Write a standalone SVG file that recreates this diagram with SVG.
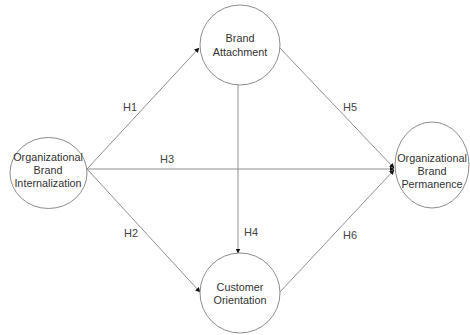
<svg xmlns="http://www.w3.org/2000/svg" width="470" height="335" viewBox="0 0 470 335">
<style>
.node{fill:#fff;stroke:#8c8c8c;stroke-width:1}
.t{font-family:"Liberation Sans",Arial,sans-serif;font-size:10.8px;fill:#333;text-anchor:middle}
.lbl{font-family:"Liberation Sans",Arial,sans-serif;font-size:11px;fill:#444;text-anchor:middle}
.edge{stroke:#909090;stroke-width:1;fill:none;marker-end:url(#ah)}
</style>
<defs>
<marker id="ah" markerWidth="5" markerHeight="5" refX="4.5" refY="2.5" orient="auto" markerUnits="userSpaceOnUse">
<path d="M0,0 L5,2.5 L0,5 z" fill="#111"/>
</marker>
</defs>
<rect width="470" height="335" fill="#fff"/>
<g id="connectors">
<line class="edge" x1="87" y1="169" x2="199" y2="48"/>
<line class="edge" x1="87" y1="169" x2="200" y2="292"/>
<line class="edge" x1="87" y1="169" x2="394" y2="169"/>
<line class="edge" x1="238" y1="85" x2="238" y2="253"/>
<line class="edge" x1="278" y1="46" x2="394" y2="168"/>
<line class="edge" x1="279" y1="293" x2="394" y2="170"/>
<text class="lbl" x="130" y="111">H1</text>
<text class="lbl" x="131" y="237">H2</text>
<text class="lbl" x="167" y="163">H3</text>
<text class="lbl" x="251" y="236">H4</text>
<text class="lbl" x="350" y="111">H5</text>
<text class="lbl" x="350" y="239">H6</text>
</g>
<g id="obi">
<ellipse class="node" cx="48.5" cy="173" rx="38.5" ry="35.5"/>
<text class="t" x="48" y="161">Organizational</text>
<text class="t" x="48" y="174">Brand</text>
<text class="t" x="48" y="187">Internalization</text>
</g>
<g id="ba">
<circle class="node" cx="240" cy="45" r="40"/>
<text class="t" x="240" y="42">Brand</text>
<text class="t" x="240" y="56">Attachment</text>
</g>
<g id="co">
<circle class="node" cx="240" cy="293" r="40"/>
<text class="t" x="240" y="291">Customer</text>
<text class="t" x="240" y="304">Orientation</text>
</g>
<g id="obp">
<ellipse class="node" cx="432" cy="165" rx="37" ry="43"/>
<text class="t" x="432" y="162">Organizational</text>
<text class="t" x="432" y="175">Brand</text>
<text class="t" x="432" y="188">Permanence</text>
</g>
</svg>
